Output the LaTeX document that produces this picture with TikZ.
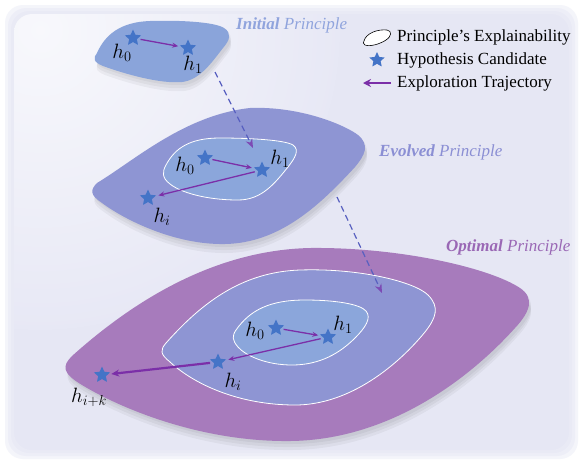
\documentclass[tikz,border=0pt]{standalone}
\usepackage{fontspec}
\setmainfont{Liberation Serif}
\usetikzlibrary{shapes.geometric, arrows.meta, positioning}

\definecolor{bgLav}{HTML}{E2E3F3}
\definecolor{initFill}{HTML}{8AA4DA}
\definecolor{evoFill}{HTML}{8E95D3}
\definecolor{coreFill}{HTML}{8BA6DB}
\definecolor{optFill}{HTML}{A77BBC}
\definecolor{starBlue}{HTML}{4474C7}
\definecolor{trajPurple}{HTML}{7B2FA8}
\definecolor{initText}{HTML}{90A4DD}
\definecolor{evoText}{HTML}{8B8FD4}
\definecolor{optText}{HTML}{9A68B5}
\definecolor{jumpBlue}{HTML}{5860C0}
\definecolor{jumpHead}{HTML}{7C4AB4}

% Region outlines
\newcommand{\shapeInit}{(97,53) .. controls (105,35) and (120,22) .. (150,21)
  .. controls (180,20) and (215,22) .. (224,28) .. controls (232,33) and (230,40) .. (223,48)
  .. controls (212,62) and (200,80) .. (182,82) .. controls (160,84) and (125,74) .. (103,66)
  .. controls (93,62) and (93,58) .. (97,53) -- cycle}
\newcommand{\shapeEvo}{(97,183) .. controls (135,160) and (185,115) .. (250,108)
  .. controls (300,106) and (345,125) .. (358,135) .. controls (370,145) and (365,155) .. (355,167)
  .. controls (320,205) and (280,243) .. (225,244) .. controls (175,245) and (125,220) .. (102,203)
  .. controls (90,195) and (90,190) .. (97,183) -- cycle}
\newcommand{\shapeEvoCore}{(166,165) .. controls (175,148) and (190,138) .. (220,138)
  .. controls (250,138) and (285,140) .. (293,145) .. controls (300,150) and (295,158) .. (288,167)
  .. controls (275,183) and (262,200) .. (238,200) .. controls (205,200) and (180,192) .. (170,184)
  .. controls (162,178) and (162,172) .. (166,165) -- cycle}
\newcommand{\shapeOpt}{(72,356) .. controls (140,295) and (220,250) .. (310,248)
  .. controls (400,247) and (490,268) .. (520,288) .. controls (535,298) and (530,312) .. (515,328)
  .. controls (470,378) and (390,440) .. (290,441) .. controls (200,442) and (120,408) .. (82,385)
  .. controls (62,373) and (62,366) .. (72,356) -- cycle}
\newcommand{\shapeOptMid}{(166,343) .. controls (200,305) and (240,272) .. (300,270)
  .. controls (360,268) and (415,282) .. (428,295) .. controls (440,307) and (436,318) .. (425,332)
  .. controls (398,365) and (350,405) .. (295,405) .. controls (240,405) and (195,385) .. (170,362)
  .. controls (160,354) and (160,350) .. (166,343) -- cycle}
\newcommand{\shapeOptCore}{(236,330) .. controls (250,310) and (270,300) .. (305,300)
  .. controls (335,300) and (360,304) .. (366,311) .. controls (372,318) and (365,328) .. (355,338)
  .. controls (340,353) and (320,365) .. (292,365) .. controls (265,365) and (245,355) .. (238,347)
  .. controls (232,340) and (232,336) .. (236,330) -- cycle}

\begin{document}
\begin{tikzpicture}[x=1pt, y=-1pt,
  hyp/.style={star, star points=5, star point ratio=2.1, fill=starBlue, draw=none, inner sep=0pt, minimum size=17pt},
  traj/.style={-{Stealth[length=6pt, width=5pt]}, draw=trajPurple, line width=1.3pt, shorten <=3pt, shorten >=3pt},
  jump/.style={draw=jumpBlue, line width=1.2pt, dash pattern=on 6pt off 4pt, -{Stealth[length=9pt, width=7pt, color=jumpHead]}},
  hlbl/.style={font=\fontsize{20}{20}\selectfont, inner sep=0pt},
  stage/.style={font=\fontsize{17}{20}\selectfont\itshape, anchor=west, inner sep=0pt},
  legend/.style={font=\fontsize{17}{20}\selectfont, anchor=west, inner sep=0pt},
  halo/.style={fill=black, opacity=0.045}]

% Background
\fill[white] (0,0) rectangle (583,464);
\foreach \d in {14,11,8,5} {
  \fill[bgLav, opacity=0.35, rounded corners=18pt] (\d,\d) rectangle (583-\d,464-\d);
}
\begin{scope}
  \clip[rounded corners=18pt] (14,14) rectangle (569,450);
  \shade[inner color=bgLav!25!white, outer color=bgLav!82!white] (40,30) circle (300);
\end{scope}

% Soft shadows
\foreach \s in {3,6,9} {
  \fill[halo, shift={(2,\s)}] \shapeInit;
  \fill[halo, shift={(2,\s)}] \shapeEvo;
  \fill[halo, shift={(2,\s)}] \shapeOpt;
}

% Regions
\fill[initFill] \shapeInit;
\fill[evoFill] \shapeEvo;
\filldraw[coreFill, draw=white, line width=0.8pt] \shapeEvoCore;
\fill[optFill] \shapeOpt;
\filldraw[evoFill, draw=white, line width=0.8pt] \shapeOptMid;
\filldraw[coreFill, draw=white, line width=0.8pt] \shapeOptCore;

% Stage titles
\node[stage, text=initText] (tInit) at (236,25) {\textbf{Initial} Principle};
\node[stage, text=evoText] (tEvo) at (379,152) {\textbf{Evolved} Principle};
\node[stage, text=optText] (tOpt) at (446,247) {\textbf{Optimal} Principle};

% Initial principle
\node[hyp] (iH0) at (133,38) {};
\node[hyp] (iH1) at (188,48) {};
\node[hlbl] at (122,53) {$h_0$};
\node[hlbl] at (193,65) {$h_1$};
\draw[traj] (iH0) -- (iH1);

% Evolved principle
\node[hyp] (eH0) at (205,158) {};
\node[hyp] (eH1) at (262,170) {};
\node[hyp] (eHi) at (148,198) {};
\node[hlbl] at (185,166) {$h_0$};
\node[hlbl] at (280,159) {$h_1$};
\node[hlbl] at (162,217) {$h_i$};
\draw[traj] (eH0) -- (eH1);
\draw[traj] (eH1) -- (eHi);

% Optimal principle
\node[hyp] (oH0) at (276,328) {};
\node[hyp] (oH1) at (328,337) {};
\node[hyp] (oHi) at (218,362) {};
\node[hyp] (oHk) at (102,375) {};
\node[hlbl] at (255,331) {$h_0$};
\node[hlbl] at (343,325) {$h_1$};
\node[hlbl] at (233,382) {$h_i$};
\node[hlbl] at (89,397) {$h_{i+k}$};
\draw[traj] (oH0) -- (oH1);
\draw[traj] (oH1) -- (oHi);
\draw[traj, line width=2.2pt, -{Stealth[length=8pt, width=7pt]}] (oHi) -- (oHk);

% Evolution steps
\coordinate (j1s) at (215,72);
\coordinate (j1e) at (253,148);
\coordinate (j2s) at (337,197);
\coordinate (j2e) at (382,293);
\draw[jump] (j1s) -- (j1e);
\draw[jump] (j2s) -- (j2e);

% Legend
\filldraw[fill=white, draw=black, line width=0.6pt] (364,41) .. controls (366,33) and (378,29) .. (387,30) .. controls (392,31) and (392,36) .. (386,40) .. controls (380,44) and (370,47) .. (365,45) .. controls (363,44) and (363,42) .. (364,41) -- cycle;
\node[legend] (lgArea) at (397,37) {Principle’s Explainability};
\node[hyp, minimum size=16pt] (lgStar) at (377,60) {};
\node[legend] (lgStarTxt) at (397,60) {Hypothesis Candidate};
\coordinate (lgArrS) at (391,83);
\coordinate (lgArrE) at (363,83);
\draw[draw=trajPurple, line width=2.8pt, -{Stealth[length=8pt, width=8pt]}] (lgArrS) -- (lgArrE);
\node[legend] (lgArrTxt) at (397,83) {Exploration Trajectory};

\end{tikzpicture}
\end{document}
